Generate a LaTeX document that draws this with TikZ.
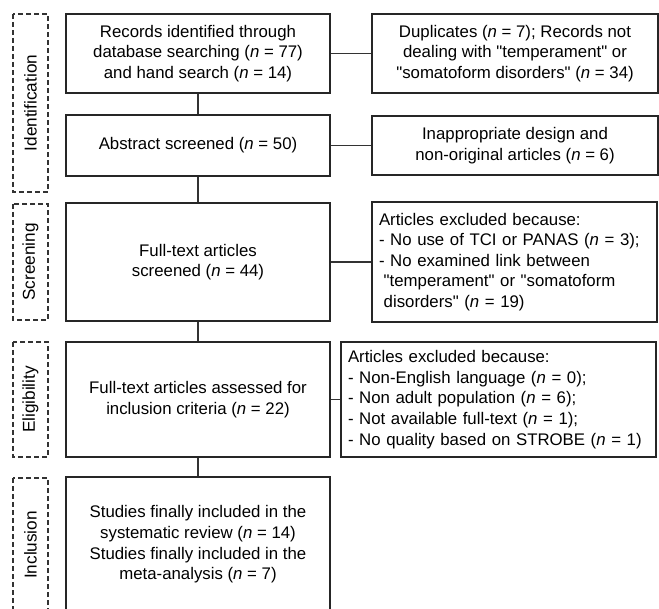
\documentclass[tikz,border=0pt]{standalone}
\usepackage{fontspec}
\setmainfont{Liberation Sans}[Ligatures=TeXOff]
\newcommand{\nn}{\textit{n}}
\begin{document}
\begin{tikzpicture}[x=1pt,y=-1pt,
  box/.style={draw=black!85,line width=1.2pt,inner sep=0pt,minimum width=264,align=center,
    font=\fontsize{16.8}{20.6}\selectfont},
  sidebox/.style={draw=black!85,line width=1.2pt,inner ysep=0pt,align=left,
    font=\fontsize{16.8}{20.6}\selectfont},
  stagebox/.style={draw=black!80,line width=1.1pt,dash pattern=on 5pt off 3pt,rotate=90,
    minimum height=35,inner sep=0pt,font=\fontsize{17.2}{20}\selectfont},
  conn/.style={draw=black!80,line width=1.2pt}]
\useasboundingbox (0,0) rectangle (659,609);
\clip (0,0) rectangle (659,609);
% stage labels
\node[stagebox,minimum width=178] (sid) at (30.5,103) {Identification};
\node[stagebox,minimum width=116] (ssc) at (30.5,262) {Screening};
\node[stagebox,minimum width=115] (sel) at (30.5,399.5) {Eligibility};
\node[stagebox,minimum width=134] (sin) at (30.5,545) {Inclusion};
% main boxes
\node[box,minimum height=79] (m1) at (198,53.5) {Records identified through\\database searching (\nn{} = 77)\\and hand search (\nn{} = 14)};
\node[box,minimum height=61] (m2) at (198,145.5) {Abstract screened (\nn{} = 50)};
\node[box,minimum height=118] (m3) at (198,262) {Full-text articles\\screened (\nn{} = 44)};
\node[box,minimum height=115] (m4) at (198,399.5) {Full-text articles assessed for\\inclusion criteria (\nn{} = 22)};
\node[box,minimum height=135] (m5) at (198,544.5) {Studies finally included in the\\systematic review (\nn{} = 14)\\Studies finally included in the\\meta-analysis (\nn{} = 7)};
% side boxes
\node[box,minimum width=286,minimum height=79] (s1) at (515,53.5) {Duplicates (\nn{} = 7); Records not\\dealing with "temperament" or\\"somatoform disorders" (\nn{} = 34)};
\node[box,minimum width=286,minimum height=59] (s2) at (515,145.5) {Inappropriate design and\\non-original articles (\nn{} = 6)};
\node[sidebox,inner xsep=7pt,text width=271pt,minimum height=120] (s3) at (514.5,262) {Articles excluded because:\\- No use of TCI or PANAS (\nn{} = 3);\\- No examined link between\\\hspace*{0.28em}"temperament" or "somatoform\\\hspace*{0.28em}disorders" (\nn{} = 19)};
\node[sidebox,inner xsep=7pt,text width=301pt,minimum height=115] (s4) at (498.5,399.5) {Articles excluded because:\\- Non-English language (\nn{} = 0);\\- Non adult population (\nn{} = 6);\\- Not available full-text (\nn{} = 1);\\- No quality based on STROBE (\nn{} = 1)};
% connectors
\draw[conn] (m1.south) -- (m2.north);
\draw[conn] (m2.south) -- (m3.north);
\draw[conn] (m3.south) -- (m4.north);
\draw[conn] (m4.south) -- (m5.north);
\draw[conn] (m1.east) -- (s1.west);
\draw[conn] (m2.east) -- (s2.west);
\draw[conn] (m3.east) -- (s3.west);
\draw[conn] (m4.east) -- (s4.west);
\end{tikzpicture}
\end{document}
